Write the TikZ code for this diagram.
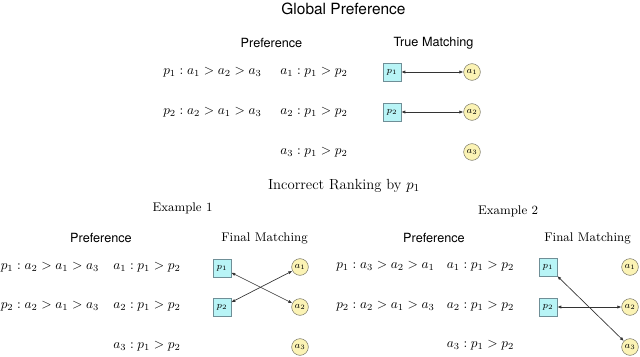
\documentclass[tikz,border=0pt]{standalone}
\usepackage{amsmath}
\usepackage{fontspec}
\setsansfont{TeX Gyre Heros}
\usepackage{xcolor}
\usepackage{tikz}
\usetikzlibrary{arrows.meta}
\definecolor{agentfill}{HTML}{B8F4F6}
\definecolor{agentline}{HTML}{6F8F97}
\definecolor{itemfill}{HTML}{FBF3B5}
\definecolor{itemline}{HTML}{7A7868}
\tikzset{
  agent/.style={draw=agentline, fill=agentfill, minimum size=13.5pt, inner sep=0pt, font=\scriptsize},
  item/.style={circle, draw=itemline, fill=itemfill, minimum size=12.5pt, inner sep=0pt, font=\scriptsize},
  match/.style={{Latex[length=3pt,width=2.4pt]}-{Latex[length=3pt,width=2.4pt]}, line width=0.5pt, draw=black!80},
  sanshead/.style={font=\sffamily\fontsize{9.5}{11}\selectfont},
  serifhead/.style={font=\fontsize{9.4}{11}\selectfont},
}
\def\rowa{72}
\def\rowb{112}
\def\rowc{152}

\begin{document}
\begin{tikzpicture}[x=0.75pt, y=-0.75pt]
  \useasboundingbox (0,0) rectangle (640,357);

  % global preference
  \node[font=\sffamily\fontsize{11.6}{13}\selectfont] (gtitle) at (343.5,9) {Global Preference};
  \node[sanshead] (gpref) at (271.5,43) {Preference};
  \node[sanshead] (gmatch) at (433.5,43) {True Matching};
  \node (gp1pref) at (212.5,\rowa) {$p_1 : a_1 > a_2 > a_3$};
  \node (gp2pref) at (212.5,\rowb) {$p_2 : a_2 > a_1 > a_3$};
  \node (ga1pref) at (314,\rowa) {$a_1 : p_1 > p_2$};
  \node (ga2pref) at (314,\rowb) {$a_2 : p_1 > p_2$};
  \node (ga3pref) at (314,\rowc) {$a_3 : p_1 > p_2$};
  \node[agent] (gp1) at (392,\rowa) {$p_1$};
  \node[agent] (gp2) at (392,\rowb) {$p_2$};
  \node[item] (ga1) at (472,\rowa) {$a_1$};
  \node[item] (ga2) at (472,\rowb) {$a_2$};
  \node[item] (ga3) at (472,\rowc) {$a_3$};
  \draw[match] (gp1) -- (ga1);
  \draw[match] (gp2) -- (ga2);

  \node[font=\fontsize{11}{13}\selectfont] (rtitle) at (344,186) {Incorrect Ranking by $p_1$};

  % example 1
  \node[serifhead] (xonetitle) at (182.5,208) {Example 1};
  \node[sanshead] (xonepref) at (101,238) {Preference};
  \node[serifhead] (xonematch) at (264.5,238) {Final Matching};
  \node (xp1pref) at (50,267) {$p_1 : a_2 > a_1 > a_3$};
  \node (xp2pref) at (50,306) {$p_2 : a_2 > a_1 > a_3$};
  \node (xa1pref) at (147,267) {$a_1 : p_1 > p_2$};
  \node (xa2pref) at (147,306) {$a_2 : p_1 > p_2$};
  \node (xa3pref) at (147,346) {$a_3 : p_1 > p_2$};
  \node[agent] (xp1) at (222,268) {$p_1$};
  \node[agent] (xp2) at (222,307) {$p_2$};
  \node[item] (xa1) at (300,267) {$a_1$};
  \node[item] (xa2) at (300,307) {$a_2$};
  \node[item] (xa3) at (300,347) {$a_3$};
  \draw[match] (xp1) -- (xa2);
  \draw[match] (xp2) -- (xa1);

  % example 2
  \node[serifhead] (xtwotitle) at (508,211) {Example 2};
  \node[sanshead] (xtwopref) at (434,238) {Preference};
  \node[serifhead] (xtwomatch) at (587.5,238) {Final Matching};
  \node (yp1pref) at (385.5,266) {$p_1 : a_3 > a_2 > a_1$};
  \node (yp2pref) at (385.5,306) {$p_2 : a_2 > a_1 > a_3$};
  \node (ya1pref) at (480.5,266) {$a_1 : p_1 > p_2$};
  \node (ya2pref) at (480.5,306) {$a_2 : p_1 > p_2$};
  \node (ya3pref) at (480.5,345) {$a_3 : p_1 > p_2$};
  \node[agent] (yp1) at (548,267) {$p_1$};
  \node[agent] (yp2) at (548,307) {$p_2$};
  \node[item] (ya1) at (630,267) {$a_1$};
  \node[item] (ya2) at (630,307) {$a_2$};
  \node[item] (ya3) at (630,347) {$a_3$};
  \draw[match] (yp1) -- (ya3);
  \draw[match] (yp2) -- (ya2);
\end{tikzpicture}
\end{document}
